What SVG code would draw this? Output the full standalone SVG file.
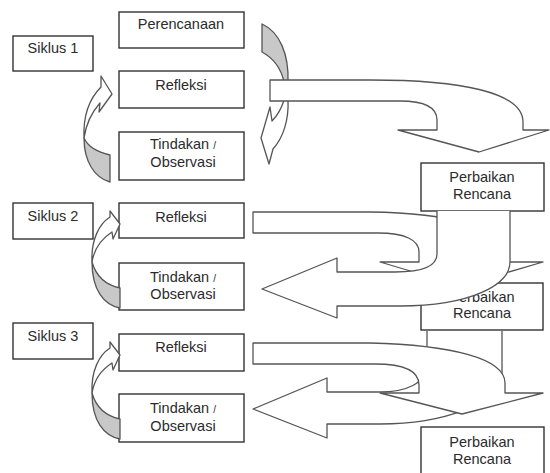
<svg xmlns="http://www.w3.org/2000/svg" width="550" height="473" viewBox="0 0 550 473">
<style>
.box{fill:#fff;stroke:#333;stroke-width:1.4}
.t{font-family:"Liberation Sans",Arial,sans-serif;font-size:14.5px;fill:#2b2b2b;text-anchor:middle}
.ar{fill:#fff;stroke:#555;stroke-width:1.3;stroke-linejoin:round}
.gr{fill:#c8c8c8;stroke:#555;stroke-width:1.3;stroke-linejoin:round}
.sl{font-size:10px}
</style>
<rect width="550" height="473" fill="#fff"/>
<g id="siklus1"><rect class="box" x="13" y="36" width="80" height="35"/><text class="t" x="53" y="53">Siklus 1</text></g>
<g id="perencanaan"><rect class="box" x="119" y="12" width="125" height="36"/><text class="t" x="181" y="29">Perencanaan</text></g>
<g id="refleksi1"><rect class="box" x="119" y="71" width="125" height="37"/><text class="t" x="181" y="90">Refleksi</text></g>
<g id="tindakan1"><rect class="box" x="119" y="132" width="125" height="48"/><text class="t" x="183" y="149">Tindakan <tspan class="sl">/</tspan></text><text class="t" x="183" y="167">Observasi</text></g>
<g id="perbaikan1"><rect class="box" x="421" y="163" width="123" height="48"/><text class="t" x="482" y="182">Perbaikan</text><text class="t" x="482" y="199">Rencana</text></g>
<g id="siklus2"><rect class="box" x="13" y="203" width="80" height="36"/><text class="t" x="53" y="221">Siklus 2</text></g>
<g id="refleksi2"><rect class="box" x="119" y="203" width="125" height="35"/><text class="t" x="181" y="222">Refleksi</text></g>
<g id="tindakan2"><rect class="box" x="119" y="263" width="125" height="47"/><text class="t" x="183" y="282">Tindakan <tspan class="sl">/</tspan></text><text class="t" x="183" y="299">Observasi</text></g>
<g id="perbaikan2"><rect class="box" x="421" y="283" width="122" height="47"/><text class="t" x="482" y="302">Perbaikan</text><text class="t" x="482" y="318">Rencana</text></g>
<g id="siklus3"><rect class="box" x="13" y="323" width="80" height="36"/><text class="t" x="53" y="341">Siklus 3</text></g>
<g id="refleksi3"><rect class="box" x="119" y="334" width="125" height="37"/><text class="t" x="181" y="352">Refleksi</text></g>
<g id="tindakan3"><rect class="box" x="119" y="394" width="125" height="48"/><text class="t" x="183" y="413">Tindakan <tspan class="sl">/</tspan></text><text class="t" x="183" y="431">Observasi</text></g>
<g id="perbaikan3"><rect class="box" x="421" y="427" width="123" height="52"/><text class="t" x="482" y="447">Perbaikan</text><text class="t" x="482" y="464">Rencana</text></g>
<g id="connectors">
<!-- cycle 1 -->
<path class="gr" d="M262,24 C280,32 289,55 288,82 L284,82 C281,68 273,58 262,52 Z"/>
<path class="ar" d="M284,100 C281,110 277,116 272,121 L270,107 L261,138 L269,164 L273,149 C283,138 289,120 288,100 Z"/>
<path class="ar" d="M270,80 L370,80 C460,80 523,92 523,122 L523,130 L549,130 L479,152 L398,130 L437,130 L437,120 C437,108 425,101 400,101 L270,101 Z"/>
<path class="ar" d="M84,138 C83,115 90,98 101,87 L101,76 L112,94 L99,112 L100,103 C92,112 86,124 84,138 Z"/>
<path class="gr" d="M84,138 C84,162 95,178 110,182 L110,155 C97,152 88,147 84,138 Z"/>
<!-- cycle 2 -->
<path class="ar" d="M92,262 C91,240 99,224 110,217 L110,211 L120,224 L113,239 L112,232 C101,239 94,250 92,262 Z"/>
<path class="gr" d="M92,262 C92,290 104,305 120,308 L120,288 C106,285 96,276 92,262 Z"/>
<path class="ar" d="M253,212 L370,212 C450,213 505,228 505,252 L505,262 L543,262 L461,286 L380,262 L419,262 L419,252 C419,240 405,233 378,233 L253,233 Z"/>
<path class="ar" d="M437,211 L437,254 C437,266 422,272 395,272 L337,272 L337,258 L262,289 L337,318 L337,306 L400,306 C470,306 510,285 510,262 L510,211"/>
<!-- cycle 3 -->
<path class="ar" d="M92,393 C91,371 99,355 110,348 L110,342 L120,355 L113,370 L112,363 C101,370 94,381 92,393 Z"/>
<path class="gr" d="M92,393 C92,421 104,436 120,439 L120,419 C106,416 96,407 92,393 Z"/>
<path class="ar" d="M427,331 L427,364 C427,384 405,392 380,392 L327,392 L327,378 L253,409 L327,438 L327,424 L380,424 C440,424 502,405 502,372 L502,331"/>
<path class="ar" d="M253,343 L370,343 C450,345 505,358 505,383 L505,393 L543,393 L462,414 L380,393 L419,393 L419,385 C419,371 405,364 375,364 L253,364 Z"/>
</g>
</svg>
